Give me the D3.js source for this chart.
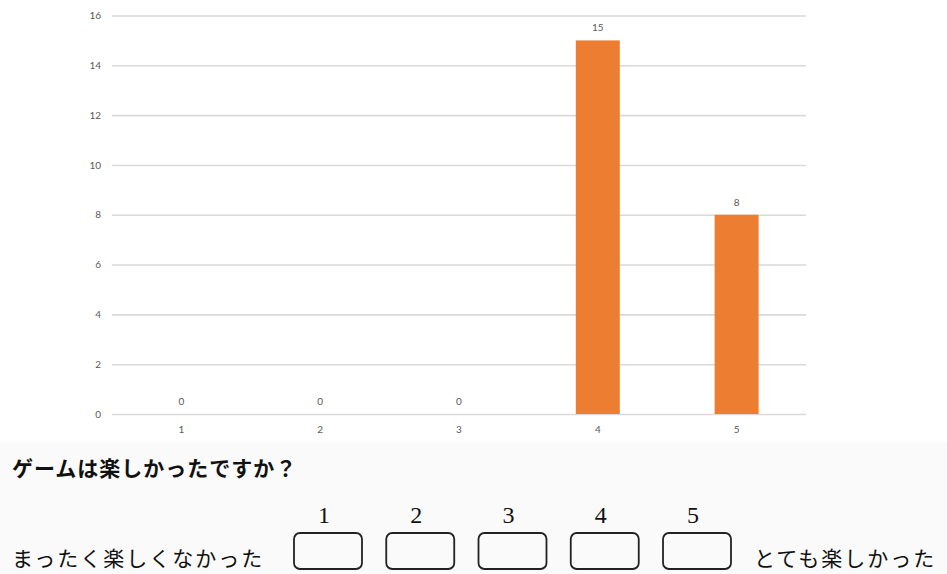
<!DOCTYPE html>
<html lang="ja">
<head>
<meta charset="utf-8">
<script src="https://cdn.jsdelivr.net/npm/d3@7"></script>
<style>
  html, body { margin: 0; padding: 0; background: #fff; }
  svg { display: block; }
</style>
</head>
<body>
<svg id="chart" width="947" height="574"></svg>
<script>
// Survey answers: how many respondents picked each rating
const categories = ["1", "2", "3", "4", "5"];
const counts = [0, 0, 0, 15, 8];
const yTicks = [0, 2, 4, 6, 8, 10, 12, 14, 16];

// Questionnaire text shown beneath the chart
const question = "ゲームは楽しかったですか？";
const lowLabel = "まったく楽しくなかった";
const highLabel = "とても楽しかった";
const choices = ["1", "2", "3", "4", "5"];

const svg = d3.select("#chart");
const W = 947, H = 574;
const plot = { left: 112, right: 806, top: 15.5, bottom: 414 };

const x = d3.scaleBand()
  .domain(categories)
  .range([plot.left, plot.right])
  .paddingInner(0.683)
  .paddingOuter(0.3415);

const y = d3.scaleLinear()
  .domain([0, 16])
  .range([plot.bottom, plot.top]);

const labelFont = "Lato, 'Open Sans', sans-serif";
const labelColor = "#595959";

// Horizontal gridlines with value ticks
const yAxis = d3.axisLeft(y)
  .tickValues(yTicks)
  .tickSize(-(plot.right - plot.left))
  .tickPadding(11)
  .tickFormat(d3.format("d"));

const gy = svg.append("g")
  .attr("transform", `translate(${plot.left},0)`)
  .call(yAxis);
gy.select(".domain").remove();
gy.selectAll(".tick line")
  .attr("stroke", "#d9d9d9")
  .attr("stroke-width", 1.6);
gy.selectAll(".tick text")
  .attr("fill", labelColor)
  .style("font-family", labelFont)
  .style("font-size", "10px");

// Category labels under the baseline
const xAxis = d3.axisBottom(x).tickSize(0).tickPadding(12);
const gx = svg.append("g")
  .attr("transform", `translate(0,${plot.bottom})`)
  .call(xAxis);
gx.select(".domain").remove();
gx.selectAll(".tick text")
  .attr("fill", labelColor)
  .style("font-family", labelFont)
  .style("font-size", "10px");

// Bars
const data = categories.map((c, i) => ({ c, v: counts[i] }));
svg.append("g")
  .selectAll("rect")
  .data(data)
  .join("rect")
  .attr("x", d => x(d.c))
  .attr("y", d => y(d.v))
  .attr("width", x.bandwidth())
  .attr("height", d => y(0) - y(d.v))
  .attr("fill", "#ED7D31");

// Value labels above each bar
svg.append("g")
  .selectAll("text")
  .data(data)
  .join("text")
  .attr("x", d => x(d.c) + x.bandwidth() / 2)
  .attr("y", d => y(d.v) - 9)
  .attr("text-anchor", "middle")
  .attr("fill", labelColor)
  .style("font-family", labelFont)
  .style("font-size", "10px")
  .text(d => d.v);

// Questionnaire panel
const panelTop = 442;
svg.append("rect")
  .attr("x", 0).attr("y", panelTop)
  .attr("width", W).attr("height", H - panelTop)
  .attr("fill", "#fafafa");

const jpFont = "'Noto Sans CJK JP', 'Noto Sans CJK SC', sans-serif";

svg.append("text")
  .attr("x", 12).attr("y", 476)
  .attr("fill", "#111")
  .style("font-family", jpFont)
  .style("font-size", "21px")
  .style("font-weight", "bold")
  .style("letter-spacing", "1px")
  .text(question);

svg.append("text")
  .attr("x", 12).attr("y", 566)
  .attr("fill", "#111")
  .style("font-family", jpFont)
  .style("font-size", "21px")
  .style("letter-spacing", "2px")
  .text(lowLabel);

svg.append("text")
  .attr("x", 754).attr("y", 566)
  .attr("fill", "#111")
  .style("font-family", jpFont)
  .style("font-size", "21px")
  .style("letter-spacing", "2px")
  .text(highLabel);

// Answer boxes with their rating numbers
const bx = d3.scaleBand()
  .domain(choices)
  .range([294, 731])
  .paddingInner(0.263)
  .paddingOuter(0);

const boxes = svg.append("g")
  .selectAll("g")
  .data(choices)
  .join("g");

boxes.append("rect")
  .attr("x", d => bx(d))
  .attr("y", 533)
  .attr("width", bx.bandwidth())
  .attr("height", 36)
  .attr("rx", 6)
  .attr("fill", "none")
  .attr("stroke", "#222")
  .attr("stroke-width", 1.8);

boxes.append("text")
  .attr("x", d => bx(d) + bx.bandwidth() / 2 - 4)
  .attr("y", 523)
  .attr("text-anchor", "middle")
  .attr("fill", "#111")
  .style("font-family", "'Liberation Serif', 'DejaVu Serif', serif")
  .style("font-size", "24px")
  .text(d => d);
</script>
</body>
</html>
